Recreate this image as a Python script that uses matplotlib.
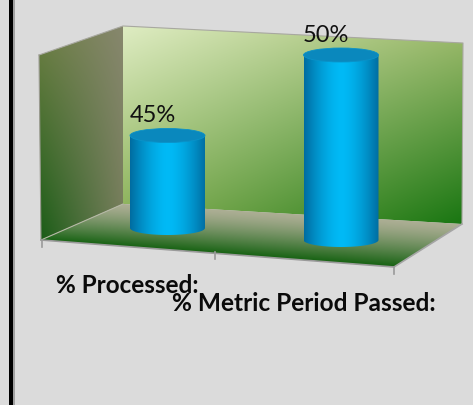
import numpy as np
import matplotlib
matplotlib.use('Agg')
import matplotlib.pyplot as plt
from matplotlib.patches import Polygon, Ellipse, Rectangle
from matplotlib.transforms import Affine2D

categories = ['% Processed:', '% Metric Period Passed:']
values = [45, 50]
value_labels = ['45%', '50%']

bg = '#dbdbdb'

fig = plt.figure(figsize=(4.73, 4.06), dpi=100, facecolor=bg)
ax = fig.add_axes([0, 0, 1, 1])
ax.set_xlim(0, 473)
ax.set_ylim(406, 0)
ax.axis('off')

# (category index, percent) -> picture pixels, the floor runs downhill to the right
data_to_px = Affine2D.from_values(173.5, 12, 0, -18.5, 167.5, 229 + 40 * 18.5)
cyl_rx = 37.5
cyl_ry = 7


def clip_image(img, pts, zorder=1):
    xs = [p[0] for p in pts]
    ys = [p[1] for p in pts]
    im = ax.imshow(img, extent=(min(xs), max(xs), max(ys), min(ys)), aspect='auto', zorder=zorder, interpolation='bilinear')
    patch = Polygon(pts, closed=True, fc='none', ec='none')
    ax.add_patch(patch)
    im.set_clip_path(patch)


# fill a polygon with a gradient built from 4 corner colours
def gradient_poly(pts, tl, tr, bl, br, zorder=1):
    u = np.linspace(0, 1, 120)[None, :, None]
    v = np.linspace(0, 1, 120)[:, None, None]
    tl, tr, bl, br = [np.array(c)[None, None, :] / 255 for c in (tl, tr, bl, br)]
    clip_image((1 - v) * ((1 - u) * tl + u * tr) + v * ((1 - u) * bl + u * br), pts, zorder)


# left wall
gradient_poly([(39, 56), (123, 27), (123, 205), (41, 241)],
              (112, 128, 70), (135, 135, 110), (25, 92, 22), (118, 125, 90))
# back wall
gradient_poly([(123, 27), (463, 44), (462, 225), (123, 205)],
              (222, 236, 194), (160, 188, 110), (135, 175, 85), (25, 118, 18))

# floor, the bands follow the sloped back and front edges
fx, fy = np.meshgrid(np.linspace(41, 462, 300), np.linspace(205, 268, 120))
back_edge = 205 + (fx - 123) * 20 / 339
front_edge = 241 + (fx - 41) * 27 / 353
s = np.clip((fy - back_edge) / (front_edge - back_edge), 0, 1)[:, :, None] ** 1.3
floor_back = np.array([172, 174, 148]) / 255
floor_front = np.array([22, 98, 18]) / 255
clip_image(floor_back * (1 - s) + floor_front * s, [(123, 205), (462, 225), (394, 268), (41, 241)])

# wall edges and axis line
ax.plot([39, 123, 463, 462], [56, 27, 44, 225], color='#a8a8a0', lw=0.8, zorder=2)
ax.plot([39, 41], [56, 241], color='#9a9a90', lw=0.8, zorder=2)
ax.plot([123, 41], [205, 241], color='#b5b8a5', lw=0.8, zorder=2)
ax.plot([462, 394], [225, 268], color='#a5a5a5', lw=1.2, zorder=2)
ax.plot([41, 394], [241, 268], color='#9a9a9a', lw=1.2, zorder=2)
for tx, ty in [(42, 241), (215, 253), (394, 268)]:
    ax.plot([tx, tx], [ty, ty + 7], color='#9a9a9a', lw=1.2, zorder=2)

# cylinders
for i, (val, lab) in enumerate(zip(values, value_labels)):
    cx, base = data_to_px.transform((i, 40))
    _, top = data_to_px.transform((i, val))
    t = np.linspace(0, 1, 150)
    shade = np.abs(2 * t - 1) ** 1.6
    dark = np.array([0, 108, 160]) / 255
    light = np.array([0, 186, 246]) / 255
    img = (light[None, :] * (1 - shade[:, None]) + dark[None, :] * shade[:, None])[None, :, :]
    im = ax.imshow(img, extent=(cx - cyl_rx, cx + cyl_rx, base + cyl_ry, top), aspect='auto', zorder=3)
    tt = np.linspace(0, np.pi, 60)
    body = [(cx - cyl_rx, top)] + [(cx + cyl_rx, top)] + \
        list(zip(cx + cyl_rx * np.cos(tt), base + cyl_ry * np.sin(tt)))
    patch = Polygon(body, closed=True, fc='none', ec='none')
    ax.add_patch(patch)
    im.set_clip_path(patch)
    ax.add_patch(Ellipse((cx, top), 2 * cyl_rx, 2 * cyl_ry, fc='#0a88bd', ec='#0a92c8', lw=0.6, zorder=4))
    ax.text(cx - 15, top - 21, lab, fontsize=17, family='Lato', color='#111111', ha='center', va='center', zorder=5)

# category labels, they overlap in the original
ax.text(127.5, 286, categories[0], fontsize=17.5, family='Lato', weight='bold', color='#0a0a0a', ha='center', va='center', zorder=5)
ax.text(304, 304, categories[1], fontsize=17.6, family='Lato', weight='bold', color='#0a0a0a', ha='center', va='center', zorder=5)

# frame bar on the left
ax.add_patch(Rectangle((9, 0), 4.3, 406, fc='black', ec='none', zorder=6))
ax.add_patch(Rectangle((13.3, 0), 1.7, 406, fc='#a0a0a0', ec='none', zorder=6))

ax.set_xlim(0, 473)
ax.set_ylim(406, 0)
fig.savefig('out.png', dpi=100, facecolor=bg)
